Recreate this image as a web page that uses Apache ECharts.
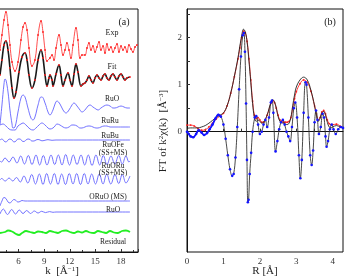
<!DOCTYPE html>
<html><head><meta charset="utf-8">
<script src="https://cdn.jsdelivr.net/npm/echarts@6/dist/echarts.min.js"></script>
<style>html,body{margin:0;padding:0;background:#fff}#c{width:352px;height:280px}</style>
</head><body><div id="c"></div>
<script>
// ---------- Panel (a): k-space curves (values relative to each curve's baseline) ----------
const kExp = [3.82,4.05,4.29,4.52,4.76,4.99,5.23,5.58,5.93,6.28,6.52,6.75,6.99,7.22,7.57,7.92,8.28,8.63,8.86,9.10,9.33,9.68,9.92,10.15,10.39,10.74,10.97,11.21,11.44,11.67,11.91,12.14,12.38,12.73,12.96,13.20,13.43,13.78,14.02,14.25,14.49,14.72,14.96,15.19,15.43,15.66,15.90,16.13,16.36,16.60,16.83,17.07,17.30,17.54,17.77,18.01,18.24,18.47,18.71,18.94,19.18,19.41,19.65,19.88];
const vExp = [-2,13,28,36,23,3,-14,-23,-14,8,21,25,18,0,-18,-12,13,27,16,-2,-13,-10,-7,-12,0,13,3,-7,-2,5,-2,-10,3,20,8,-10,-7,-7,0,5,-2,2,-4,1,6,-2,2,-5,4,-2,1,-4,0,4,-4,2,-2,1,-4,3,-1,-4,1,3];
const kFit = [3.82,4.05,4.29,4.52,4.76,4.99,5.23,5.46,5.70,6.05,6.40,6.75,6.99,7.22,7.57,7.92,8.28,8.63,8.86,9.10,9.33,9.56,9.68,9.92,10.03,10.39,10.74,10.97,11.21,11.44,11.79,12.03,12.26,12.50,12.73,12.96,13.32,13.55,13.78,14.02,14.25,14.49,14.72,14.96,15.19,15.43,15.66,15.90,16.13,16.36,16.60,16.83,17.07,17.30,17.54,17.77,18.01,18.24,18.47,18.71,19.06];
const vFit = [3,18,33,37,28,10,-10,-20,-14,6,21,25,18,3,-10,-2,18,28,20,3,-8,0,3,-2,-8,4,13,3,-8,-2,5,-2,-8,4,14,6,-8,-6,-5,-2,2,-2,-5,0,3,0,-2,2,4,0,-2,2,4,1,-2,2,4,1,-2,0,1];
const kRuO = [3.82,4.05,4.29,4.41,4.52,4.76,4.99,5.23,5.34,5.58,5.93,6.28,6.52,6.75,7.10,7.45,7.69,7.92,8.28,8.63,8.74,9.10,9.45,9.68,10.03,10.27,10.50,10.85,11.21,11.56,11.91,12.26,12.50,12.85,13.20,13.43,13.78,14.14,14.37,14.72,15.07,15.31,15.66,16.01,16.36,16.72,17.07,17.30,17.65,18.01,18.36,18.71,19.06];
const vRuO = [-17,3,24,29,28,16,-2,-16,-20,-19,-4,10,13,11,0,-10,-12,-9,3,11,11,5,-4,-7,-2,4,7,4,-2,-5,-2,3,5,2,-2,-4,-2,2,3,1,-1,-2,0,2,3,2,0,0,1,2,1,0,0];
const kRuRu = [3.82,4.17,4.52,4.88,5.23,5.58,5.93,6.28,6.52,6.87,7.34,7.69,8.04,8.39,8.74,9.10,9.45,9.68,10.03,10.27,10.50,10.85,11.21,11.56,11.91,12.26,12.50,12.85,13.20,13.43,13.78,14.14,14.37,14.72,15.07,15.31,15.66,16.01,16.36,16.72,17.42,19.06];
const vRuRu = [2,3,1,-2,-3,-3,1,3,4,2,-2,-3,-1,2,4,2,-1,-2,-1,1,3,2,0,-1,0,2,2,1,-1,-1,0,1,1,0,-1,-1,0,1,1,0,0,0];
const kRuBu = [3.82,4.05,4.29,4.52,4.76,4.99,5.23,5.46,5.70,5.93,6.17,6.40,6.63,6.87,7.10,7.34,7.57,7.81,8.04,8.28,8.51,8.74,8.98,9.21,9.45,9.92,10.39,19.06];
const vRuBu = [0,1,-1,-2,0,1,0,-2,-1,1,1,-1,-1.5,0,1,0.5,-1,-1,0,0.5,0,-0.8,-0.5,0,0.3,-0.3,0,0];
const kRuOFe = [3.82,4.00,4.41,4.88,5.34,5.81,6.25,6.69,7.14,7.57,8.04,8.47,8.90,9.33,9.80,10.23,10.66,11.09,11.52,11.97,12.41,12.85,13.32,13.75,14.17,14.61,15.07,15.51,15.93,16.36,16.83,17.28,17.74,18.16,18.59,18.94,19.06];
const vRuOFe = [-1,-2,2,-2,3,-3,4,-4,4.5,-4.5,5,-5,4.5,-5,5,-4.5,5,-5,5.5,-5,5,-4.5,5,-5,5,-5.5,5,-5,4.5,-4.5,4,-4,4.5,-4,4,-2,-1];
const kRuORu = [3.82,4.00,4.44,4.88,5.32,5.75,6.20,6.63,7.08,7.54,7.98,8.43,8.86,9.29,9.74,10.19,10.62,11.05,11.50,11.94,12.38,12.81,13.26,13.70,14.14,14.57,15.02,15.46,15.90,16.33,16.81,17.30,17.74,18.16,18.59,19.06];
const vRuORu = [-1,0.5,-2,1,-2,1.5,-3,3,-4,4.5,-5,5,-5.5,5.5,-5,5.5,-5.5,5,-5.5,5.5,-5,5.5,-5.5,5.5,-5,5,-5,5,-5,5,-5,4.5,-4.5,4.5,-4,3];
const kORuO = [3.82,4.05,4.29,4.52,4.76,4.99,5.23,5.46,5.70,5.93,6.17,6.40,6.75,7.34,19.06];
const vORuO = [-5,0,3.5,2.5,-1,-2,0,1.5,0.5,-1,-0.5,0.5,0,0,0];
const kRuO2 = [3.82,4.21,4.70,5.19,5.64,6.08,6.52,6.95,7.40,7.84,8.28,8.71,9.15,9.62,10.03,10.39,19.06];
const vRuO2 = [-2,3,-2.5,2.5,-2,2,-1.5,1.5,-1.5,1,-1,0.7,-0.6,0.4,-0.3,0,0];
const kRes = [3.82,4.41,4.76,5.23,5.70,6.05,6.40,6.87,7.34,7.81,8.28,8.74,9.21,9.68,10.15,10.62,11.09,11.56,12.03,12.50,12.96,13.43,13.90,14.37,14.84,15.31,15.78,16.25,16.72,17.19,17.65,18.12,18.59,19.06];
const vRes = [-1,0,1.5,0.5,-2,-3,-1,1,0,-1,0.5,0,-1,1,0,-1,1,1.5,0,-1,0.5,-0.5,1,-0.5,-1,1,0,-1,1,-0.5,-1,1,1.5,0];
const curveNames = ['Exp','Fit','RuO','RuRu','RuBu','RuOFe (SS+MS)','RuORu (SS+MS)','ORuO (MS)','RuO','Residual'];
const kTicks = [6,9,12,15,18];

// ---------- Panel (b): R-space ----------
const magR = [0,0.1,0.2,0.3,0.4,0.5,0.6,0.7,0.8,0.9,1.0,1.1,1.2,1.3,1.4,1.45,1.5,1.55,1.6,1.65,1.7,1.75,1.8,1.85,1.9,1.95,2.0,2.05,2.1,2.2,2.3,2.35,2.4,2.45,2.5,2.55,2.6,2.65,2.7,2.75,2.8,2.85,2.9,2.95,3.0,3.1,3.2,3.3,3.4,3.5,3.55,3.6,3.65,3.7,3.75,3.8,3.85,3.9,3.95,4.0,4.1,4.2,4.28];
const expMag = [0.14,0.14,0.12,0.07,0.03,0.04,0.1,0.18,0.27,0.33,0.39,0.55,0.82,1.17,1.55,1.78,2.0,2.14,2.1,1.92,1.55,1.1,0.65,0.35,0.28,0.3,0.25,0.2,0.2,0.35,0.6,0.66,0.62,0.5,0.35,0.25,0.22,0.2,0.2,0.2,0.22,0.3,0.5,0.7,0.85,1.02,1.1,1.05,0.86,0.55,0.38,0.25,0.3,0.42,0.45,0.38,0.25,0.17,0.15,0.15,0.16,0.12,0.08];
const fitMag = [0.07,0.08,0.08,0.08,0.1,0.13,0.18,0.24,0.3,0.35,0.4,0.55,0.82,1.18,1.58,1.82,2.04,2.18,2.12,1.9,1.5,1.05,0.6,0.3,0.22,0.25,0.22,0.18,0.2,0.36,0.62,0.68,0.64,0.5,0.32,0.22,0.19,0.18,0.16,0.15,0.18,0.3,0.55,0.78,0.95,1.1,1.16,1.1,0.88,0.55,0.35,0.22,0.28,0.4,0.43,0.35,0.2,0.1,0.08,0.1,0.13,0.1,0.07];
const imR = [0,0.05,0.1,0.17,0.25,0.32,0.4,0.47,0.55,0.62,0.7,0.78,0.86,0.93,1.0,1.06,1.12,1.18,1.24,1.28,1.33,1.38,1.43,1.48,1.53,1.56,1.59,1.62,1.645,1.67,1.69,1.72,1.76,1.8,1.86,1.9,1.95,2.0,2.05,2.1,2.15,2.2,2.25,2.3,2.33,2.37,2.43,2.48,2.53,2.58,2.63,2.68,2.73,2.78,2.83,2.88,2.93,2.97,3.02,3.07,3.11,3.15,3.2,3.25,3.28,3.33,3.38,3.42,3.46,3.5,3.54,3.58,3.62,3.67,3.72,3.76,3.8,3.83,3.87,3.92,3.97,4.02,4.08,4.15,4.22,4.28];
const imVal = [0,-0.05,-0.1,-0.12,-0.05,0.03,-0.02,-0.07,-0.03,0.05,0.15,0.28,0.36,0.32,0.15,-0.15,-0.5,-0.8,-0.94,-0.9,-0.55,0.1,0.9,1.6,2.05,2.1,1.7,0.6,-0.6,-1.5,-1.45,-0.9,-0.45,0.0,0.3,0.33,0.15,-0.05,0.0,0.15,0.25,0.1,0.3,0.62,0.66,0.4,-0.42,-0.2,0.05,0.2,0.25,0.15,0.0,-0.1,-0.2,0.1,0.5,0.62,0.3,-0.5,-0.99,-0.6,0.4,1.05,1.0,0.3,-0.5,-0.71,-0.4,0.2,0.45,0.25,-0.05,0.1,0.38,0.3,-0.1,-0.32,-0.2,0.05,0.15,0.05,-0.05,0.05,0.1,0.08];
const rTicks = [0,1,2,3,4];
const yTicksB = [0,1,2];

// ---------- layout / style (not data) ----------
const offsets = {Exp:204, Fit:174, RuO:144, RuRu:125, RuBu:112, RuOFe:92, RuORu:73, ORuO:51, RuO2:40, Res:20};
const SERIF = 'Liberation Serif';
const BLUE = '#6464ff';
const zip = (xs, ys, off) => xs.map((x, i) => [x, (off || 0) + ys[i]]);

function kLine(name, xs, ys, off, color, width, extra) {
  return Object.assign({
    type: 'line', name, xAxisIndex: 0, yAxisIndex: 0, data: zip(xs, ys, off),
    showSymbol: false, smooth: 0.4, lineStyle: {color, width}, itemStyle: {color}, z: 3
  }, extra || {});
}

const series = [
  kLine(curveNames[0], kExp, vExp, offsets.Exp, '#ff2222', 0.8, {showSymbol: true, symbol: 'circle', symbolSize: 1.8}),
  kLine(curveNames[1], kFit, vFit, offsets.Fit, '#1a1a1a', 1.6),
  kLine(curveNames[1] + ' data', kFit, vFit, offsets.Fit, '#ff2222', 0, {showSymbol: true, symbol: 'circle', symbolSize: 1.8, z: 4}),
  kLine(curveNames[2], kRuO, vRuO, offsets.RuO, BLUE, 0.9),
  kLine(curveNames[3], kRuRu, vRuRu, offsets.RuRu, BLUE, 0.9),
  kLine(curveNames[4], kRuBu, vRuBu, offsets.RuBu, BLUE, 0.9),
  kLine(curveNames[5], kRuOFe, vRuOFe, offsets.RuOFe, BLUE, 0.9),
  kLine(curveNames[6], kRuORu, vRuORu, offsets.RuORu, BLUE, 0.9),
  kLine(curveNames[7], kORuO, vORuO, offsets.ORuO, BLUE, 0.9),
  kLine(curveNames[8], kRuO2, vRuO2, offsets.RuO2, BLUE, 0.9),
  kLine(curveNames[9], kRes, vRes, offsets.Res, '#22ee22', 1.8),
  // panel (b)
  {type: 'line', name: '|FT| exp', xAxisIndex: 1, yAxisIndex: 1, data: zip(magR, expMag), smooth: 0.4,
   showSymbol: true, symbol: 'circle', symbolSize: 1.8, lineStyle: {color: '#ff2222', width: 0.9}, itemStyle: {color: '#ff2222'}, z: 3},
  {type: 'line', name: '|FT| fit', xAxisIndex: 1, yAxisIndex: 1, data: zip(magR, fitMag), smooth: 0.4,
   showSymbol: false, lineStyle: {color: '#222', width: 0.9}, z: 4},
  {type: 'line', name: 'Im exp', xAxisIndex: 1, yAxisIndex: 1, data: zip(imR, imVal), smooth: 0.4,
   showSymbol: true, symbol: 'circle', symbolSize: 2.6, lineStyle: {width: 0}, itemStyle: {color: '#1414ff'}, z: 5},
  {type: 'line', name: 'Im exp line', xAxisIndex: 1, yAxisIndex: 1, data: zip(imR.slice(0, 14), imVal.slice(0, 14)), smooth: 0.4,
   showSymbol: false, lineStyle: {color: '#1414ff', width: 1.8}, z: 5},
  {type: 'line', name: 'Im fit', xAxisIndex: 1, yAxisIndex: 1, data: zip(imR, imVal), smooth: 0.4,
   showSymbol: false, lineStyle: {color: '#333', width: 0.9}, z: 4}
];

const labA = [
  ['(a)', 124, 22, 10], ['Exp', 112, 33, 8], ['Fit', 112, 67, 8], ['RuO', 112, 99, 7.5],
  ['RuRu', 110, 121, 7.5], ['RuBu', 110, 136, 7.5], ['RuOFe', 113, 145, 7.5], ['(SS+MS)', 113, 153, 7.5],
  ['RuORu', 113, 166, 7.5], ['(SS+MS)', 113, 173, 7.5], ['ORuO (MS)', 108, 197, 7.5], ['RuO', 113, 210, 7.5],
  ['Residual', 113, 242, 7.5], ['(b)', 330, 22, 10]
];
const graphic = labA.map(([t, x, y, fs]) => ({
  type: 'text', x, y, silent: true, z: 10,
  style: {text: t, fill: '#222', font: fs + 'px "' + SERIF + '"', align: 'center', verticalAlign: 'middle'}
}));
const rich = {a: {fontFamily: SERIF, fontSize: 11, fill: '#222'}, s: {fontFamily: SERIF, fontSize: 7, verticalAlign: 'top', fill: '#222'}};
graphic.push({type: 'text', x: 62, y: 271, z: 10, style: {text: '{a|k  [Å}{s|−1}{a|]}', rich, align: 'center', verticalAlign: 'middle'}});
graphic.push({type: 'text', x: 265, y: 271, z: 10, style: {text: '{a|R [Å]}', rich, align: 'center', verticalAlign: 'middle'}});
graphic.push({type: 'text', x: 163, y: 131, rotation: Math.PI / 2, z: 10,
  style: {text: '{a|FT of k}{s|2}{a|χ(k)  [Å}{s|−3}{a|]}', rich, align: 'center', verticalAlign: 'middle'}});

const axisLab = {color: '#333', fontFamily: SERIF, fontSize: 9, margin: 5};
const halfSteps = [0, 0.5, 1, 1.5, 2, 2.5, 3, 3.5, 4];
const option = {
  animation: false,
  backgroundColor: '#fff',
  grid: [
    {left: -7, top: 9, width: 145, height: 243, show: true, borderColor: '#111', borderWidth: 1, backgroundColor: 'transparent', outerBoundsMode: 'none'},
    {left: 187, top: 9, width: 156, height: 243, show: true, borderColor: '#111', borderWidth: 1, backgroundColor: 'transparent', outerBoundsMode: 'none'}
  ],
  xAxis: [
    {type: 'value', gridIndex: 0, min: 3, max: 20, interval: 3,
     axisLine: {show: true, lineStyle: {color: '#111'}},
     axisTick: {inside: true, length: 3, lineStyle: {color: '#333'}},
     minorTick: {show: true, splitNumber: 2, length: 2, lineStyle: {color: '#333'}},
     splitLine: {show: false}, minorSplitLine: {show: false},
     axisLabel: Object.assign({customValues: kTicks}, axisLab)},
    {type: 'value', gridIndex: 1, min: 0, max: 4.28,
     axisLine: {show: true, lineStyle: {color: '#111'}},
     axisTick: {inside: true, length: 3, customValues: halfSteps, lineStyle: {color: '#333'}},
     splitLine: {show: false}, minorSplitLine: {show: false},
     axisLabel: Object.assign({customValues: rTicks}, axisLab)}
  ],
  yAxis: [
    {type: 'value', gridIndex: 0, min: 0, max: 243, show: false, splitLine: {show: false}},
    {type: 'value', gridIndex: 1, min: -2.56, max: 2.61,
     axisLine: {show: true, lineStyle: {color: '#111'}},
     axisTick: {inside: true, length: 3, customValues: [0, 0.5, 1, 1.5, 2, 2.5], lineStyle: {color: '#333'}},
     splitLine: {show: false},
     axisLabel: Object.assign({customValues: yTicksB}, axisLab)}
  ],
  graphic,
  series
};
const chart = echarts.init(document.getElementById('c'), null, {renderer: 'canvas'});
chart.setOption(option);
</script></body></html>
